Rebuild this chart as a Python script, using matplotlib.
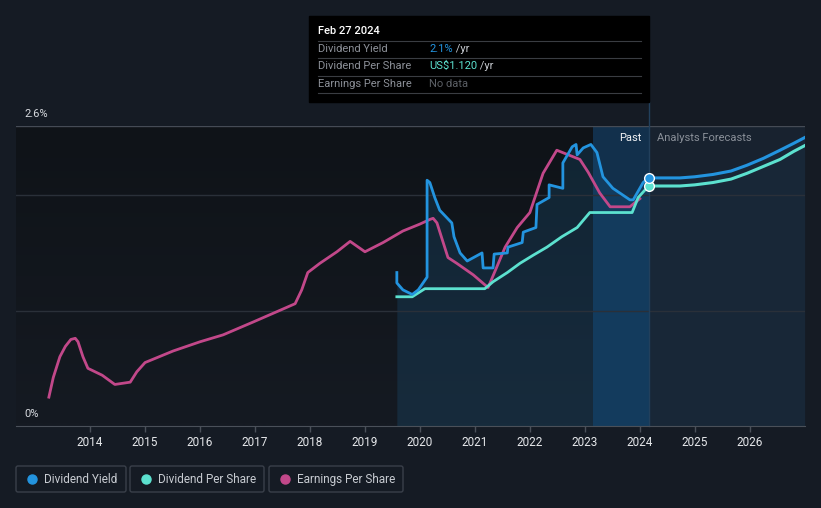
import numpy as np
import matplotlib
matplotlib.use('Agg')
from matplotlib import pyplot as plt
from matplotlib.patches import Rectangle, FancyBboxPatch
from matplotlib.colors import to_rgb

plt.rcParams['font.family'] = ['Roboto', 'DejaVu Sans']

# --- data (percent) ---
eps_years = [2013.25, 2013.33, 2013.45, 2013.55, 2013.65, 2013.73, 2013.78, 2013.87, 2013.96,
             2014.22, 2014.45, 2014.73, 2014.85, 2015.00, 2015.51, 2016.00, 2016.42,
             2016.96, 2017.49, 2017.73, 2017.85, 2017.96, 2018.18, 2018.49, 2018.73,
             2019.00, 2019.33, 2019.69, 2020.00, 2020.18, 2020.24, 2020.31, 2020.51, 2020.67,
             2020.97, 2021.24, 2021.40, 2021.55, 2021.77, 2022.00, 2022.24, 2022.49,
             2022.91, 2023.06, 2023.27, 2023.46, 2023.82, 2024.00]
eps_vals = [0.25, 0.42, 0.60, 0.69, 0.75, 0.76, 0.73, 0.60, 0.50,
            0.44, 0.36, 0.38, 0.47, 0.55, 0.65, 0.73, 0.79,
            0.90, 1.01, 1.06, 1.18, 1.33, 1.41, 1.51, 1.60,
            1.51, 1.59, 1.69, 1.75, 1.79, 1.80, 1.76, 1.46, 1.41,
            1.31, 1.20, 1.38, 1.55, 1.72, 1.85, 2.19, 2.39,
            2.31, 2.20, 2.02, 1.90, 1.90, 1.97]

dy_years = [2019.58, 2019.58, 2019.69, 2019.86, 2019.97, 2020.13, 2020.13, 2020.18,
            2020.27, 2020.36, 2020.58, 2020.62, 2020.73, 2020.86, 2021.13, 2021.15,
            2021.33, 2021.35, 2021.59, 2021.60, 2021.86, 2021.88, 2022.11, 2022.13,
            2022.35, 2022.35, 2022.60, 2022.60, 2022.77, 2022.84, 2022.86, 2022.97,
            2023.11, 2023.22, 2023.33, 2023.51, 2023.82, 2023.88, 2024.06, 2024.16]
dy_vals = [1.33, 1.24, 1.18, 1.14, 1.18, 1.29, 2.13, 2.11,
           1.98, 1.87, 1.76, 1.64, 1.50, 1.43, 1.50, 1.37,
           1.37, 1.49, 1.50, 1.55, 1.59, 1.68, 1.72, 1.92,
           1.98, 2.09, 2.06, 2.28, 2.42, 2.44, 2.35, 2.41,
           2.44, 2.37, 2.16, 2.06, 1.96, 1.96, 2.11, 2.15]

dps_years = [2019.58, 2019.86, 2020.09, 2021.18, 2021.33, 2021.59, 2021.82, 2022.06,
             2022.31, 2022.58, 2022.86, 2023.09, 2023.86, 2023.97, 2024.16]
dps_vals = [1.12, 1.12, 1.19, 1.19, 1.25, 1.33, 1.41, 1.48,
            1.55, 1.64, 1.72, 1.85, 1.85, 1.98, 2.08]

fc_years = [2024.16, 2024.73, 2025.00, 2025.33, 2025.66, 2025.95, 2026.25, 2026.55, 2026.8, 2027.0]
dy_fc = [2.15, 2.15, 2.16, 2.18, 2.21, 2.26, 2.32, 2.39, 2.45, 2.50]
dps_fc = [2.08, 2.08, 2.09, 2.11, 2.14, 2.19, 2.25, 2.31, 2.38, 2.43]

year_ticks = list(range(2014, 2027))
today = 2024.16
band_start = 2023.14

BG = '#151b24'
BLUE = '#2394df'
TEAL = '#5ce1cf'
PINK = '#c2488a'

fig = plt.figure(figsize=(8.21, 5.08), dpi=100, facecolor=BG)
W, H = 821, 508
x0, x1 = 2012.652, 2027.005
ax = fig.add_axes([16 / W, 82 / H, 789 / W, 300 / H])
ax.set_facecolor(BG)
ax.set_xlim(x0, x1)
ax.set_ylim(0, 2.6)

# dark past background, fading downward
top, bot = np.array(to_rgb('#0f1318')), np.array(to_rgb('#151a22'))
grad = np.linspace(0, 1, 50)[:, None, None] * (bot - top) + top
ax.imshow(grad, extent=[x0, band_start, 0, 2.6], aspect='auto',
          interpolation='bilinear', zorder=0, origin='upper')

# forecast region
ax.axvspan(today, x1, color='#18222f', lw=0, zorder=0)
ax.fill_between(fc_years, dy_fc, 0, color=BLUE, alpha=0.05, lw=0, zorder=1)

# dividend yield area
ax.fill_between(dy_years, dy_vals, 0, color=BLUE, alpha=0.14, lw=0, zorder=1)
# last-year band
ax.axvspan(band_start, today, color='#0e5a9a', alpha=0.34, lw=0, zorder=1)

# grid
for yv, c in [(1.0, '#2a3039'), (2.0, '#2a3039'), (2.6, '#454b55')]:
    ax.axhline(yv, color=c, lw=1, zorder=2)
ax.axvline(today, ymin=0, ymax=(426 - 102) / 300, color='#22405c', lw=1,
           clip_on=False, zorder=2)

ax.plot(eps_years, eps_vals, color=PINK, lw=2, zorder=4, solid_joinstyle='round')
ax.plot(dps_years, dps_vals, color=TEAL, lw=2, zorder=4, solid_joinstyle='round')
ax.plot(dy_years, dy_vals, color=BLUE, lw=2, zorder=5, solid_joinstyle='round')
ax.plot(fc_years, dps_fc, color=TEAL, lw=2.2, zorder=4)
ax.plot(fc_years, dy_fc, color=BLUE, lw=2.2, zorder=5)
ax.plot([today], [dps_vals[-1]], 'o', ms=7, color=TEAL, mec='white', mew=1, zorder=6)
ax.plot([today], [dy_vals[-1]], 'o', ms=7, color=BLUE, mec='white', mew=1, zorder=6)

for s in ['top', 'right', 'left']:
    ax.spines[s].set_visible(False)
ax.spines['bottom'].set_color('#4a5059')
ax.set_yticks([])
ax.set_xticks(year_ticks)
ax.set_xticklabels([str(y) for y in year_ticks],
                   fontfamily=['Liberation Sans Narrow', 'Roboto'])
ax.tick_params(axis='x', colors='#4a5059', labelcolor='#e6e8eb', length=4,
               width=1, pad=3, labelsize=8.5)

# overlay in pixel coordinates for annotations
ov = fig.add_axes([0, 0, 1, 1], zorder=10)
ov.set_xlim(0, W)
ov.set_ylim(H, 0)
ov.axis('off')

ov.text(24, 114, '2.6%', color='#d8dbe0', fontsize=8, va='center')
ov.text(24, 414, '0%', color='#d8dbe0', fontsize=8, va='center')
ov.text(641, 138, 'Past', color='#f2f3f5', fontsize=8, va='center', ha='right')
ov.text(657, 138, 'Analysts Forecasts', color='#8a9099', fontsize=8, va='center')

# tooltip
ov.add_patch(Rectangle((309, 16), 340, 86, color='black', zorder=1))
ov.text(318, 31, 'Feb 27 2024', color='white', fontsize=8, va='center',
        fontweight='medium', zorder=2)
for yl in [41, 58, 76, 93]:
    ov.plot([318, 641], [yl, yl], color='#3a3d42', lw=0.8, zorder=2)
rows = [('Dividend Yield', '2.1%', BLUE, ' /yr'),
        ('Dividend Per Share', 'US$1.120', TEAL, ' /yr'),
        ('Earnings Per Share', 'No data', '#5c6066', '')]
for (lab, val, col, suf), yr in zip(rows, [49, 66, 84]):
    ov.text(318, yr, lab, color='#8d9199', fontsize=8, va='center', zorder=2)
    t = ov.text(429, yr, val, color=col, fontsize=8, va='center', zorder=2)
    if suf:
        ov.annotate(suf, xycoords=t, xy=(1, 0.5), va='center', color='#c8ccd2',
                    fontsize=8, zorder=2)

# legend
legend_items = [('Dividend Yield', BLUE, 16, 110),
                ('Dividend Per Share', TEAL, 130, 134),
                ('Earnings Per Share', PINK, 269, 134)]
for lab, col, lx, lw_ in legend_items:
    ov.add_patch(FancyBboxPatch((lx, 466), lw_, 26, boxstyle='round,pad=0,rounding_size=2',
                                fc='none', ec='#3a404a', lw=1))
    ov.plot([lx + 16], [479], 'o', ms=6.5, color=col)
    ov.text(lx + 28, 479.5, lab, color='#c8ccd2', fontsize=8.5, va='center',
            fontfamily=['Liberation Sans Narrow', 'Roboto'])

fig.savefig('out.png', dpi=100, facecolor=BG)
